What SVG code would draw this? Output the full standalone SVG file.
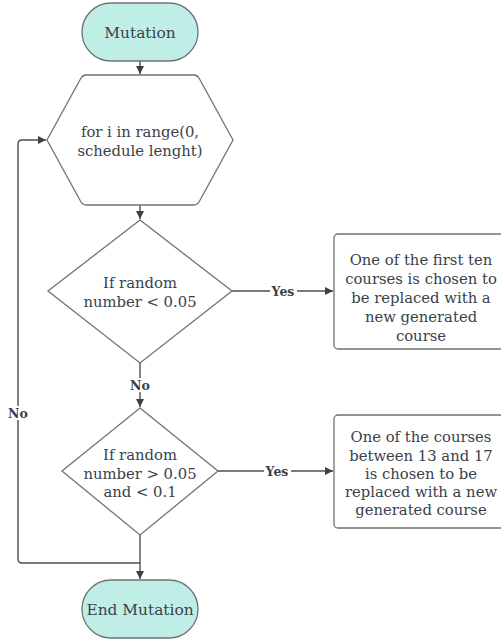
<svg xmlns="http://www.w3.org/2000/svg" width="501" height="640" viewBox="0 0 501 640">
<defs>
<style>
.shape{fill:#ffffff;stroke:#6f7277;stroke-width:1.3}
.term{fill:#bfeee6;stroke:#6f7277;stroke-width:1.3}
.t{font-family:"DejaVu Serif","Liberation Serif",serif;font-size:14.8px;fill:#3a414a;text-anchor:middle}
.tb{font-family:"DejaVu Serif","Liberation Serif",serif;font-size:15.4px;fill:#3a414a;text-anchor:middle}
.lbl{font-family:"DejaVu Serif","Liberation Serif",serif;font-size:12.5px;font-weight:bold;fill:#3a414a;text-anchor:middle}
.c{fill:none;stroke:#4a4f57;stroke-width:1.4}
</style>
<marker id="ah" viewBox="0 0 10 10" refX="10" refY="5" markerWidth="8" markerHeight="8" markerUnits="userSpaceOnUse" orient="auto">
<path d="M0,0 L10,5 L0,10 z" fill="#3a414a"/>
</marker>
</defs>
<rect width="501" height="640" fill="#ffffff"/>
<g id="connectors">
<path class="c" d="M140,61 L140,74" marker-end="url(#ah)"/>
<path class="c" d="M140,205 L140,219" marker-end="url(#ah)"/>
<path class="c" d="M232,291 L333,291" marker-end="url(#ah)"/>
<path class="c" d="M140,363 L140,407" marker-end="url(#ah)"/>
<path class="c" d="M218,471 L333,471" marker-end="url(#ah)"/>
<path class="c" d="M140,535 L140,579" marker-end="url(#ah)"/>
<path class="c" d="M140,563 L22,563 Q18,563 18,559 L18,144 Q18,140 22,140 L46,140" marker-end="url(#ah)"/>
<rect x="270" y="284" width="27" height="14" fill="#ffffff"/>
<text class="lbl" x="283" y="295.5">Yes</text>
<rect x="264" y="464" width="27" height="14" fill="#ffffff"/>
<text class="lbl" x="277" y="475.5">Yes</text>
<rect x="128" y="378" width="24" height="14" fill="#ffffff"/>
<text class="lbl" x="140" y="389.5">No</text>
<rect x="6" y="406" width="24" height="14" fill="#ffffff"/>
<text class="lbl" x="18" y="417.5">No</text>
</g>
<g id="start">
<rect class="term" x="82" y="3" width="116" height="58" rx="29" ry="29"/>
<text class="tb" x="140" y="37.5">Mutation</text>
</g>
<g id="loop">
<path class="shape" d="M86,75 L194,75 Q197,75 199,78 L233,140 L199,202 Q197,205 194,205 L86,205 Q83,205 81,202 L47,140 L81,78 Q83,75 86,75 Z"/>
<text class="t" x="140" y="137">for i in range(0,</text>
<text class="t" x="140" y="156">schedule lenght)</text>
</g>
<g id="decision1">
<path class="shape" d="M140,220 L232,291 L140,363 L48,291 Z"/>
<text class="t" x="140" y="288">If random</text>
<text class="t" x="140" y="307">number &lt; 0.05</text>
</g>
<g id="action1">
<rect class="shape" x="334" y="234" width="172" height="115" rx="4" ry="4"/>
<text class="t" x="421" y="265">One of the first ten</text>
<text class="t" x="421" y="284">courses is chosen to</text>
<text class="t" x="421" y="303">be replaced with a</text>
<text class="t" x="421" y="322">new generated</text>
<text class="t" x="421" y="341">course</text>
</g>
<g id="decision2">
<path class="shape" d="M140,408 L218,471 L140,535 L62,471 Z"/>
<text class="t" x="140" y="460">If random</text>
<text class="t" x="140" y="479">number &gt; 0.05</text>
<text class="t" x="140" y="497">and &lt; 0.1</text>
</g>
<g id="action2">
<rect class="shape" x="334" y="415" width="172" height="113" rx="4" ry="4"/>
<text class="t" x="421" y="442">One of the courses</text>
<text class="t" x="421" y="461">between 13 and 17</text>
<text class="t" x="421" y="479">is chosen to be</text>
<text class="t" x="421" y="497">replaced with a new</text>
<text class="t" x="421" y="515">generated course</text>
</g>
<g id="end">
<rect class="term" x="82" y="580" width="116" height="58" rx="29" ry="29"/>
<text class="tb" x="140" y="614.5">End Mutation</text>
</g>
</svg>
